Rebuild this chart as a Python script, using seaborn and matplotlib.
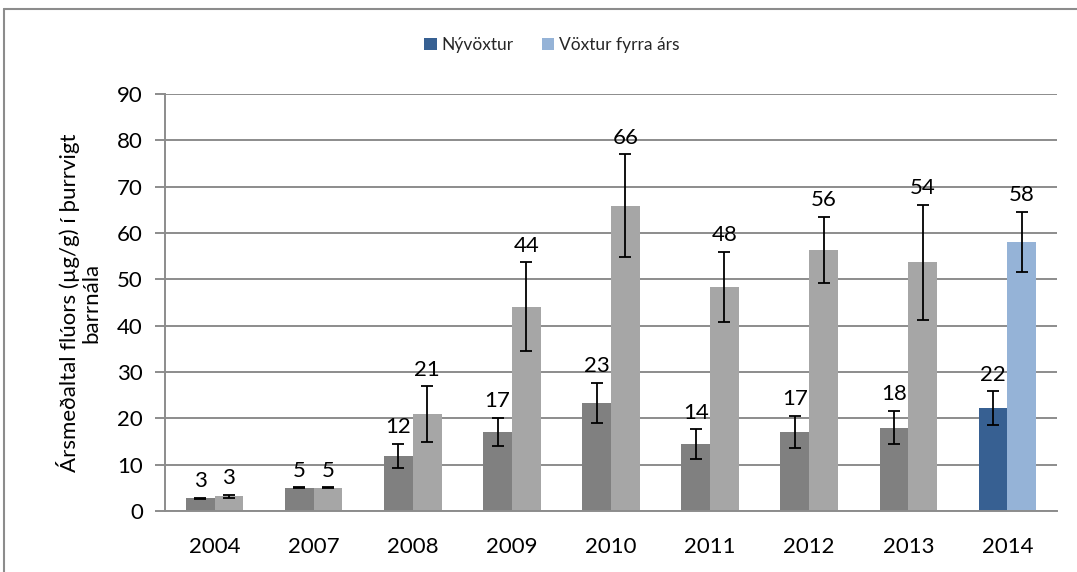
import matplotlib
matplotlib.use("Agg")
import matplotlib.pyplot as plt
from matplotlib.patches import Patch
from matplotlib.lines import Line2D
import seaborn as sns
import pandas as pd

# Annual mean fluoride in needle dry weight, by year
years = ["2004", "2007", "2008", "2009", "2010", "2011", "2012", "2013", "2014"]
new_growth = [2.7, 5.0, 11.9, 17.1, 23.4, 14.4, 17.1, 18.0, 22.2]
new_growth_err = [0.15, 0.1, 2.65, 3.0, 4.3, 3.2, 3.5, 3.6, 3.6]
prev_growth = [3.2, 5.0, 20.9, 44.1, 65.9, 48.4, 56.4, 53.7, 58.1]
prev_growth_err = [0.3, 0.1, 6.0, 9.6, 11.1, 7.6, 7.1, 12.4, 6.5]
series_names = ["Nývöxtur", "Vöxtur fyrra árs"]
y_ticks = [0, 10, 20, 30, 40, 50, 60, 70, 80, 90]

grey_dark, grey_light = "#808080", "#A6A6A6"
blue_dark, blue_light = "#376092", "#95B3D7"
grid_col = "#8C8C8C"

sns.set_theme(style="white")
plt.rcParams["font.family"] = ["Lato", "DejaVu Sans"]

df = pd.DataFrame({
    "Ár": years * 2,
    "gildi": new_growth + prev_growth,
    "röð": [series_names[0]] * len(years) + [series_names[1]] * len(years),
})

fig = plt.figure(figsize=(10.77, 5.72), dpi=100)
ax = fig.add_axes([165 / 1077, 1 - 511 / 572, (1057 - 165) / 1077, (511 - 94) / 572])

sns.barplot(data=df, x="Ár", y="gildi", hue="röð", order=years,
            hue_order=series_names, palette=[grey_dark, grey_light],
            width=0.58, gap=0, errorbar=None, saturation=1,
            legend=False, ax=ax, zorder=2, linewidth=0, edgecolor="none")

# the latest year is highlighted in blue
ax.containers[0][-1].set_facecolor(blue_dark)
ax.containers[1][-1].set_facecolor(blue_light)

for cont, errs in zip(ax.containers, [new_growth_err, prev_growth_err]):
    for bar, e in zip(cont, errs):
        x = bar.get_x() + bar.get_width() / 2
        h = bar.get_height()
        ax.errorbar(x, h, yerr=e, fmt="none", ecolor="black",
                    elinewidth=1.3, capsize=4.5, capthick=1.3, zorder=3)
        ax.annotate(f"{h:.0f}", (x, h + e), xytext=(0, 12),
                    textcoords="offset points", ha="center", va="center",
                    fontsize=16, color="black", zorder=4)

ax.set_ylim(0, 90)
ax.set_yticks(y_ticks)
ax.set_xlim(-0.5, len(years) - 0.5)
ax.yaxis.grid(True, color=grid_col, lw=1.4)
ax.set_axisbelow(True)
for s in ["top", "right"]:
    ax.spines[s].set_visible(False)
for s in ["left", "bottom"]:
    ax.spines[s].set_color(grid_col)
    ax.spines[s].set_linewidth(1.4)
ax.tick_params(axis="y", left=True, length=7, width=1.4, color=grid_col,
               labelsize=16, pad=9, labelcolor="black")
ax.tick_params(axis="x", bottom=False, labelsize=16, pad=13, labelcolor="black")
ax.set_xlabel("")
ax.set_ylabel("Ársmeðaltal flúors (µg/g) í þurrvigt\nbarrnála",
              fontsize=16, labelpad=11, linespacing=1.1, color="black")

handles = [Patch(facecolor=blue_dark, edgecolor="none"),
           Patch(facecolor=blue_light, edgecolor="none")]
fig.legend(handles, series_names, loc="center", bbox_to_anchor=(552 / 1077, 1 - 45 / 572),
           ncol=2, frameon=False, fontsize=12.5, handlelength=0.7,
           handleheight=0.7, handletextpad=0.3, columnspacing=1.6)

# chart area frame
fig.add_artist(Line2D([4 / 1077, 1.0], [1 - 9 / 572, 1 - 9 / 572],
                      transform=fig.transFigure, color="#8C8C8C", lw=1.5))
fig.add_artist(Line2D([4 / 1077, 4 / 1077], [0, 1 - 9 / 572],
                      transform=fig.transFigure, color="#8C8C8C", lw=1.5))

fig.savefig("out.png", dpi=100)
